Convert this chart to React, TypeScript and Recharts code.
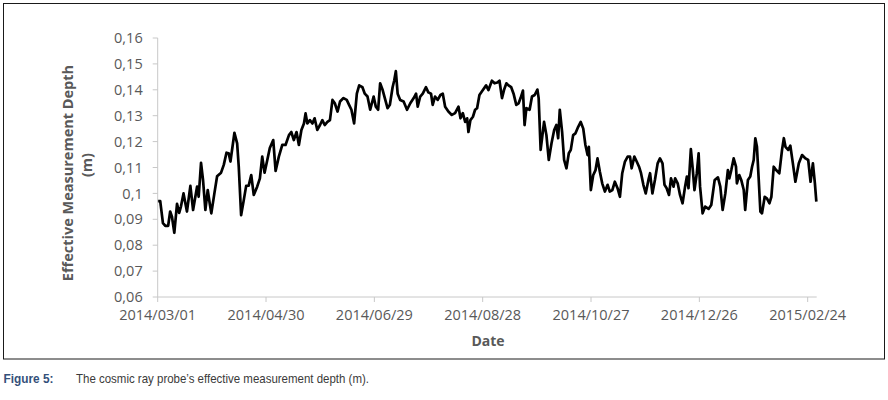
import React from 'react';
import { LineChart, Line, XAxis, YAxis } from 'recharts';

// Days since 2014/03/01
const dayOffsets: number[] = [
  0, 1.4, 2.9, 4.2, 5.8, 6.9, 7.9, 9.2, 10.7, 11.9,
  12.9, 14.3, 16.2, 18.1, 19.6, 21.8, 22.7, 24, 25.1, 26.4,
  27.7, 28.8, 29.7, 31.4, 32.9, 35.1, 36.6, 38.1, 39.3, 40.3,
  42.5, 44, 44.9, 46.2, 47.7, 49, 50.4, 51.8, 53.2, 55.1,
  56.6, 57.9, 59.2, 60.7, 62.1, 64, 65.3, 67.1, 69, 70.8,
  72.7, 74, 75.4, 76.9, 78.2, 79.6, 81, 81.9, 82.9, 84.3,
  85.7, 86.9, 88.4, 89.9, 91.2, 92.5, 94, 95.4, 96.8, 98.1,
  99.6, 101, 102.9, 104.7, 106, 107.3, 108.8, 110.3, 111.6, 113.4,
  114.7, 116.2, 117.7, 119.6, 120.8, 122.1, 123.2, 124.6, 125.8, 127.3,
  128.6, 130.1, 131, 131.9, 132.9, 134.3, 136.2, 138.1, 139.9, 141.8,
  143.1, 144, 145.4, 146.8, 148.6, 149.9, 151.4, 152.3, 153.6, 155.1,
  156.6, 157.9, 159.2, 161, 162.9, 164.7, 166.6, 167.7, 169, 170.3,
  171.4, 172.1, 173.2, 174.6, 175.8, 176.9, 178.2, 180.1, 181.9, 183.2,
  185.1, 186.6, 188.1, 189.3, 190.7, 191.8, 193.1, 194.3, 195.8, 197.1,
  198.6, 199.9, 201, 202.3, 203.2, 204.2, 206, 207.3, 208.8, 210.3,
  211, 212.1, 214, 215.3, 216.6, 218.1, 219.6, 220.8, 221.8, 222.7,
  224, 225.1, 226.4, 227.7, 228.8, 230.1, 231.4, 232.9, 234.3, 235.7,
  236.9, 238.1, 238.8, 239.9, 241.2, 242.5, 243.6, 244.9, 246.2, 247.7,
  249.2, 250.4, 251.8, 253.2, 254.7, 256, 257.3, 258.8, 260.3, 261.6,
  262.5, 264, 265.3, 266.6, 267.7, 269, 270.3, 271.8, 272.7, 274,
  275.4, 276.9, 278.2, 279.6, 280.7, 281.9, 283.2, 284.3, 285.7, 286.6,
  288, 289.3, 290.7, 292.1, 293.1, 294, 295.3, 296.4, 297.3, 298.6,
  299.6, 300.4, 301.8, 303.2, 305.1, 306.6, 308.5, 310.3, 311.6, 312.9,
  314.4, 315.8, 316.6, 317.7, 319, 320.3, 320.8, 322.1, 323.2, 324.6,
  325.4, 326.9, 328.2, 329.2, 330.1, 331, 331.9, 332.9, 333.8, 334.7,
  336.2, 337.5, 338.8, 339.9, 341.2, 342.5, 344.3, 345.8, 346.8, 347.7,
  349.2, 350.4, 351.8, 353.2, 355.1, 356.9, 358.8, 360.3, 361.6, 362.9,
  364, 364.8,
];

// Effective measurement depth (m)
const depthValues: number[] = [
  0.097, 0.097, 0.0885, 0.0875, 0.0875, 0.093, 0.091, 0.0848, 0.096, 0.0925,
  0.095, 0.1, 0.093, 0.1029, 0.0936, 0.1026, 0.0987, 0.1118, 0.1052, 0.0936,
  0.1013, 0.0962, 0.0923, 0.1, 0.1066, 0.108, 0.111, 0.1157, 0.1155, 0.1123,
  0.1234, 0.1193, 0.1102, 0.0916, 0.0975, 0.1029, 0.103, 0.1071, 0.0994, 0.1026,
  0.1058, 0.1142, 0.108, 0.1129, 0.1175, 0.1206, 0.1087, 0.1142, 0.1187, 0.1187,
  0.1225, 0.1237, 0.1206, 0.1237, 0.1187, 0.1245, 0.127, 0.1309, 0.127, 0.1283,
  0.127, 0.129, 0.1245, 0.1264, 0.1283, 0.1264, 0.1276, 0.1283, 0.1361, 0.1348,
  0.1316, 0.1355, 0.1368, 0.1361, 0.1342, 0.1323, 0.127, 0.1385, 0.1417, 0.141,
  0.1385, 0.1374, 0.1323, 0.1374, 0.1335, 0.1323, 0.1425, 0.1399, 0.1368, 0.1329,
  0.1342, 0.141, 0.1436, 0.1472, 0.1385, 0.1361, 0.1355, 0.1323, 0.1348, 0.1368,
  0.1385, 0.1335, 0.1374, 0.1385, 0.141, 0.139, 0.1385, 0.1342, 0.1374, 0.1361,
  0.138, 0.1385, 0.1335, 0.1316, 0.1303, 0.131, 0.1335, 0.129, 0.131, 0.1276,
  0.129, 0.1237, 0.1283, 0.1296, 0.1323, 0.1329, 0.138, 0.1399, 0.1417, 0.1399,
  0.1435, 0.1425, 0.1428, 0.1435, 0.1368, 0.1399, 0.1425, 0.1417, 0.141, 0.1385,
  0.1342, 0.1348, 0.1368, 0.1397, 0.1264, 0.1329, 0.1323, 0.1374, 0.138, 0.1401,
  0.1368, 0.1168, 0.1276, 0.1225, 0.1129, 0.1193, 0.1245, 0.1264, 0.1213, 0.1323,
  0.1237, 0.1129, 0.1097, 0.1155, 0.1168, 0.1225, 0.1232, 0.1257, 0.1276, 0.125,
  0.1187, 0.1148, 0.118, 0.1013, 0.107, 0.109, 0.1135, 0.1084, 0.1039, 0.1007,
  0.1033, 0.1007, 0.1013, 0.1045, 0.102, 0.0987, 0.1078, 0.1123, 0.1142, 0.1142,
  0.1097, 0.1142, 0.1123, 0.1103, 0.1078, 0.1033, 0.1, 0.1052, 0.1078, 0.1,
  0.1052, 0.1116, 0.1135, 0.1116, 0.1033, 0.102, 0.0994, 0.1058, 0.1026, 0.1058,
  0.1039, 0.0994, 0.0962, 0.1026, 0.1065, 0.102, 0.1171, 0.109, 0.1013, 0.1078,
  0.1155, 0.1026, 0.0923, 0.0949, 0.094, 0.0955, 0.1052, 0.1062, 0.1026, 0.0936,
  0.1, 0.109, 0.1058, 0.109, 0.1135, 0.1103, 0.1039, 0.1071, 0.1052, 0.1013,
  0.0936, 0.1052, 0.1065, 0.1103, 0.1129, 0.1213, 0.118, 0.1052, 0.093, 0.0923,
  0.0987, 0.098, 0.0962, 0.0987, 0.1103, 0.109, 0.1078, 0.1168, 0.1213, 0.118,
  0.1168, 0.1184, 0.1116, 0.1045, 0.1116, 0.1148, 0.1135, 0.1129, 0.1045, 0.1116,
  0.1039, 0.0968,
];

const xTickDays: number[] = [0, 60, 120, 180, 240, 300, 360];
const xTickLabels: string[] = ['2014/03/01', '2014/04/30', '2014/06/29', '2014/08/28', '2014/10/27', '2014/12/26', '2015/02/24'];
const yTicks: number[] = [0.06, 0.07, 0.08, 0.09, 0.1, 0.11, 0.12, 0.13, 0.14, 0.15, 0.16];
const yTickLabels: string[] = ['0,06', '0,07', '0,08', '0,09', '0,1', '0,11', '0,12', '0,13', '0,14', '0,15', '0,16'];

const data = dayOffsets.map((d, i) => ({ day: d, depth: depthValues[i] }));

const AXIS_GRAY = '#c8c8c8';
const TEXT_GRAY = '#595959';
const FONT = '"Open Sans", "Liberation Sans", sans-serif';

export default function App() {
  return (
    <div style={{ position: 'absolute', left: 0, top: 0, width: 888, height: 400, background: '#fff' }}>
      <div style={{ position: 'absolute', left: 0, top: 0 }}>
        <LineChart width={888} height={400} data={data} margin={{ top: 38, right: 71.3, bottom: 73, left: 0 }}>
          <XAxis
            type="number"
            dataKey="day"
            domain={[0, 365]}
            ticks={xTickDays}
            tickFormatter={(d: number) => xTickLabels[xTickDays.indexOf(d)]}
            height={30}
            tickSize={5}
            tickMargin={8}
            axisLine={{ stroke: AXIS_GRAY, strokeWidth: 1 }}
            tickLine={{ stroke: AXIS_GRAY, strokeWidth: 1 }}
            tick={{ fill: TEXT_GRAY, fontSize: 14.5, fontFamily: FONT }}
            interval={0}
          />
          <YAxis
            type="number"
            domain={[0.06, 0.16]}
            ticks={yTicks}
            tickFormatter={(v: number) => yTickLabels[yTicks.indexOf(v)]}
            width={157.7}
            tickSize={5}
            tickMargin={10}
            axisLine={{ stroke: AXIS_GRAY, strokeWidth: 1 }}
            tickLine={{ stroke: AXIS_GRAY, strokeWidth: 1 }}
            tick={{ fill: TEXT_GRAY, fontSize: 14.5, fontFamily: FONT }}
            interval={0}
            allowDataOverflow
          />
          <Line
            type="linear"
            dataKey="depth"
            stroke="#000"
            strokeWidth={2.7}
            dot={false}
            isAnimationActive={false}
            strokeLinejoin="round"
          />
        </LineChart>
      </div>
      <svg width={888} height={400} style={{ position: 'absolute', left: 0, top: 0, pointerEvents: 'none' }}>
        <rect x={3.5} y={3.5} width={881} height={355.5} fill="none" stroke="#1a1a1a" strokeWidth={1} />
        <text
          x={67}
          y={173}
          transform="rotate(-90, 67, 173)"
          textAnchor="middle"
          dominantBaseline="central"
          fontFamily={FONT}
          fontWeight="bold"
          fontSize={14.5}
          fill={TEXT_GRAY}
        >
          Effective Measurement Depth
        </text>
        <text
          x={86}
          y={165}
          transform="rotate(-90, 86, 165)"
          textAnchor="middle"
          dominantBaseline="central"
          fontFamily={FONT}
          fontWeight="bold"
          fontSize={14.5}
          fill={TEXT_GRAY}
        >
          (m)
        </text>
        <text
          x={488}
          y={340}
          textAnchor="middle"
          dominantBaseline="central"
          fontFamily={FONT}
          fontWeight="bold"
          fontSize={14}
          fill={TEXT_GRAY}
        >
          Date
        </text>
        <text
          x={3.5}
          y={383}
          fontFamily='"Liberation Sans Narrow", "Liberation Sans", sans-serif'
          fontWeight="bold"
          fontSize={13}
          fill="#34507a"
          textLength={50}
          lengthAdjust="spacingAndGlyphs"
        >
          Figure 5:
        </text>
        <text
          x={76}
          y={383}
          fontFamily='"Liberation Sans Narrow", "Liberation Sans", sans-serif'
          fontSize={13}
          fill="#3a3a3a"
          textLength={293}
          lengthAdjust="spacingAndGlyphs"
        >
          The cosmic ray probe’s effective measurement depth (m).
        </text>
      </svg>
    </div>
  );
}
